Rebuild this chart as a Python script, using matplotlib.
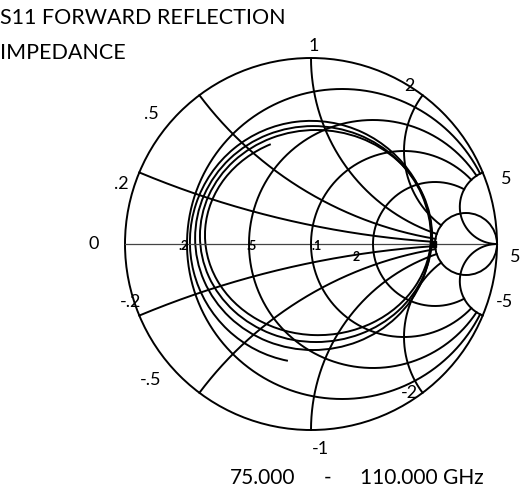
import numpy as np
import matplotlib
matplotlib.use("Agg")
import matplotlib.pyplot as plt
from matplotlib.patches import Arc, Circle

# Smith chart grid values
r_values = [0.2, 0.5, 1, 2]
x_values = [0.2, 0.5, 1, 2]
r_outer = 5
x_outer = 5

# S11 trace loops (reflection coefficient plane)
loop_cx = [0.000, 0.011, 0.027, 0.038]
loop_cy = [0.011, 0.032, 0.043, 0.048]
loop_a = [0.651, 0.634, 0.624, 0.608]
loop_b = [0.651, 0.602, 0.570, 0.538]
loop_start = [0, 0, 0, 117.5]
loop_end = [259, 360, 360, 360]

# labels
rim_labels = ["1", "2", "5", "5", "-5", "-2", "-1", "-.5", "-.2", "0", ".2", ".5"]
rim_pos = [(0.016, 1.065), (0.53, 0.85), (1.05, 0.35), (1.10, -0.07), (1.04, -0.31),
           (0.53, -0.80), (0.05, -1.10), (-0.86, -0.73), (-0.97, -0.31),
           (-1.17, 0.0), (-1.02, 0.32), (-0.86, 0.70)]
axis_labels = [".2", ".5", ".1", "2"]
axis_pos = [(-0.685, -0.012), (-0.32, -0.012), (0.03, -0.012), (0.245, -0.07)]
freq_start = "75.000"
freq_stop = "110.000 GHz"

plt.rcParams["font.family"] = ["Lato", "DejaVu Sans"]

fig = plt.figure(figsize=(5.22, 4.91), dpi=100)
ax = fig.add_axes([0, 0, 1, 1])
ax.set_xlim(-311 / 186, (522 - 311) / 186)
ax.set_ylim(-(491 - 244) / 186, 244 / 186)
ax.axis("off")

lw = 1.4
col = "black"


def gamma(z):
    return (z - 1) / (z + 1)


# outer circle and real axis
ax.add_patch(Circle((0, 0), 1, fill=False, lw=lw, color=col))
ax.plot([-1, 1], [0, 0], color="#444444", lw=0.9)

# resistance circles, stopped at the x = +-5 arcs
xs = np.linspace(-x_outer, x_outer, 2000)
for r in r_values:
    g = gamma(r + 1j * xs)
    ax.plot(g.real, g.imag, color=col, lw=lw)
ax.add_patch(Circle((r_outer / (1 + r_outer), 0), 1 / (1 + r_outer),
                    fill=False, lw=lw, color=col))

# reactance arcs, stopped at the r = 5 circle
rs = np.linspace(0, r_outer, 1500)
for x in x_values:
    for s in (1, -1):
        g = gamma(rs + 1j * s * x)
        ax.plot(g.real, g.imag, color=col, lw=lw)
rs_full = np.tan(np.linspace(0, np.pi / 2 - 1e-4, 2000))
for s in (1, -1):
    g = gamma(rs_full + 1j * s * x_outer)
    ax.plot(g.real, g.imag, color=col, lw=lw)

# measured loops
for cx, cy, a, b, t1, t2 in zip(loop_cx, loop_cy, loop_a, loop_b, loop_start, loop_end):
    ax.add_patch(Arc((cx, cy), 2 * a, 2 * b, theta1=t1, theta2=t2, lw=lw, color=col))
ax.plot([0.655], [0.0], marker="s", ms=4, color=col)

for t, (x, y) in zip(rim_labels, rim_pos):
    ax.text(x, y, t, fontsize=13, ha="center", va="center")
for t, (x, y) in zip(axis_labels, axis_pos):
    ax.text(x, y, t, fontsize=9, ha="center", va="center", fontweight="bold")

fig.text(0.0, 0.963, "S11 FORWARD REFLECTION", fontsize=15.5, ha="left", va="center")
fig.text(0.0, 0.892, "IMPEDANCE", fontsize=15.5, ha="left", va="center")
fig.text(0.441, 0.027, freq_start, fontsize=15, ha="left", va="center")
fig.text(0.628, 0.027, "-", fontsize=15, ha="center", va="center")
fig.text(0.69, 0.027, freq_stop, fontsize=15, ha="left", va="center")

fig.savefig("out.png", dpi=100)
